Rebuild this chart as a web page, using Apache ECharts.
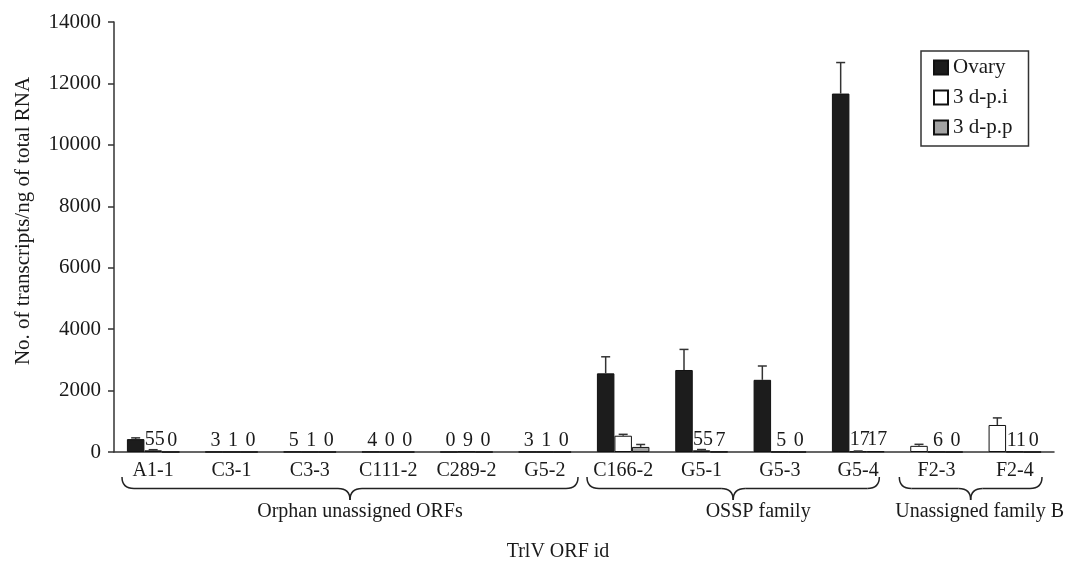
<!DOCTYPE html>
<html>
<head>
<meta charset="utf-8">
<script src="https://cdn.jsdelivr.net/npm/echarts@6/dist/echarts.min.js"></script>
<style>
  html, body { margin: 0; padding: 0; background: #fff; }
  #main { width: 1074px; height: 567px; }
</style>
</head>
<body>
<div id="main"></div>
<script>
// ORF ids on the category axis
const categories = ['A1-1', 'C3-1', 'C3-3', 'C111-2', 'C289-2', 'G5-2',
                    'C166-2', 'G5-1', 'G5-3', 'G5-4', 'F2-3', 'F2-4'];

// Transcript counts per ng of total RNA
const ovary    = [420, 3, 5, 4, 0, 3, 2560, 2670, 2350, 11670, 200, 880];
const dpi      = [55, 1, 1, 0, 9, 1, 530, 55, 5, 17, 6, 11];
const dpp      = [0, 0, 0, 0, 0, 0, 165, 7, 0, 17, 0, 0];

// Upper error (standard deviation) for each bar
const ovaryErr = [40, 0, 0, 0, 0, 0, 540, 670, 450, 1010, 50, 230];
const dpiErr   = [20, 0, 0, 0, 0, 0, 45, 25, 0, 15, 0, 0];
const dppErr   = [0, 0, 0, 0, 0, 0, 80, 0, 0, 0, 0, 0];

// Y axis range
const yMin = 0, yMax = 14000, yStep = 2000;

// ORF families shown with braces under the axis
const familyNames = ['Orphan unassigned ORFs', 'OSSP family', 'Unassigned family B'];
const familyFirst = [0, 6, 10];
const familyLast  = [5, 9, 11];

const seriesNames = ['Ovary', '3 d-p.i', '3 d-p.p'];

// ---- styling / layout ----
const FONT = '"Liberation Serif", "Times New Roman", serif';
const INK = '#1a1a1a';
const AXIS = '#333';
const BAR_W = 17.5;
const fills = ['#1c1c1c', '#ffffff', '#a3a3a3'];
// the F2 ORFs are drawn as open boxes in the first slot
const openFirstSlot = ['F2-3', 'F2-4'];
// brace end insets from the category edges, and family caption nudges
const braceInsets = [[8, 6], [3, 18], [2, 12]];
const captionShift = [10, 25, 9];

const chart = echarts.init(document.getElementById('main'), null, { renderer: 'canvas' });

function barData(values, slot) {
  return values.map((v, i) => {
    if (slot === 0 && openFirstSlot.indexOf(categories[i]) >= 0) {
      return { value: v, itemStyle: { color: '#ffffff' } };
    }
    return v;
  });
}

function errData() {
  const out = [];
  [ovary, dpi, dpp].forEach((vals, s) => {
    const errs = [ovaryErr, dpiErr, dppErr][s];
    vals.forEach((v, i) => { if (errs[i] > 0) out.push([i, v, errs[i], s]); });
  });
  return out;
}

const barSeries = [ovary, dpi, dpp].map((vals, s) => ({
  name: seriesNames[s],
  type: 'bar',
  data: barData(vals, s),
  barWidth: BAR_W,
  barGap: '0%',
  itemStyle: { color: fills[s], borderColor: '#111', borderWidth: 1 },
  label: {
    show: true,
    position: 'top',
    distance: 1,
    offset: [1.5, 0],
    fontFamily: FONT,
    fontSize: 20,
    color: INK,
    formatter: p => (p.value < 100 ? String(p.value) : '')
  },
  z: 2
}));

const errorSeries = {
  type: 'custom',
  silent: true,
  z: 5,
  encode: { x: 0, y: 1 },
  data: errData(),
  renderItem: function (params, api) {
    const cat = api.value(0), v = api.value(1), e = api.value(2), s = api.value(3);
    const p0 = api.coord([cat, v]);
    const p1 = api.coord([cat, v + e]);
    const x = p0[0] + (s - 1) * BAR_W;
    const st = { stroke: AXIS, lineWidth: 1.5 };
    return {
      type: 'group',
      children: [
        { type: 'line', shape: { x1: x, y1: p0[1], x2: x, y2: p1[1] }, style: st },
        { type: 'line', shape: { x1: x - 4.5, y1: p1[1], x2: x + 4.5, y2: p1[1] }, style: st }
      ]
    };
  }
};

chart.setOption({
  backgroundColor: '#ffffff',
  animation: false,
  textStyle: { fontFamily: FONT, color: INK },
  grid: { left: 114, right: 20, top: 22, bottom: 115 },
  legend: {
    data: seriesNames,
    orient: 'vertical',
    left: 921,
    top: 51,
    padding: [6, 16, 8, 12],
    itemWidth: 14,
    itemHeight: 14,
    itemGap: 9,
    borderColor: AXIS,
    borderWidth: 1.5,
    icon: 'rect',
    textStyle: { fontFamily: FONT, fontSize: 21, color: INK }
  },
  xAxis: {
    type: 'category',
    data: categories,
    axisLine: { lineStyle: { color: AXIS, width: 1.5 } },
    axisTick: { length: 5, lineStyle: { color: AXIS, width: 1.5 } },
    axisLabel: { interval: 0, margin: 9, fontFamily: FONT, fontSize: 20, color: INK }
  },
  yAxis: {
    type: 'value',
    min: yMin,
    max: yMax,
    interval: yStep,
    axisLine: { show: true, lineStyle: { color: AXIS, width: 1.5 } },
    axisTick: { show: true, length: 6, lineStyle: { color: AXIS, width: 1.5 } },
    splitLine: { show: false },
    axisLabel: { margin: 13, fontFamily: FONT, fontSize: 21, color: INK, formatter: v => String(v) }
  },
  series: barSeries.concat([errorSeries])
});

// Curly brace built from straight runs and quadratic curves
function braceParts(x1, x2, y0, h) {
  const xm = (x1 + x2) / 2, ym = y0 + h / 2, yt = y0 + h, r = 12;
  const st = { fill: 'none', stroke: '#222', lineWidth: 1.5 };
  const curve = (ax, ay, cx_, cy_, bx, by) => ({
    type: 'bezierCurve', silent: true, style: st,
    shape: { x1: ax, y1: ay, cpx1: cx_, cpy1: cy_, x2: bx, y2: by }
  });
  const seg = (ax, ay, bx, by) => ({
    type: 'line', silent: true, style: st,
    shape: { x1: ax, y1: ay, x2: bx, y2: by }
  });
  return [
    curve(x1, y0, x1, ym, x1 + r, ym),
    seg(x1 + r, ym, xm - r, ym),
    curve(xm - r, ym, xm, ym, xm, yt),
    curve(xm, yt, xm, ym, xm + r, ym),
    seg(xm + r, ym, x2 - r, ym),
    curve(x2 - r, ym, x2, ym, x2, y0)
  ];
}

const cx = i => chart.convertToPixel({ xAxisIndex: 0 }, i);
const cw = cx(1) - cx(0);
let graphics = [];
familyNames.forEach((name, k) => {
  const x1 = cx(familyFirst[k]) - cw / 2 + braceInsets[k][0];
  const x2 = cx(familyLast[k]) + cw / 2 - braceInsets[k][1];
  graphics = graphics.concat(braceParts(x1, x2, 477, 23));
  graphics.push({
    type: 'text',
    x: (x1 + x2) / 2 + captionShift[k],
    y: 512,
    silent: true,
    style: { text: name, font: '20px ' + FONT, fill: INK, textAlign: 'center', textVerticalAlign: 'middle' }
  });
});
graphics.push({
  type: 'text',
  x: 558,
  y: 552,
  silent: true,
  style: { text: 'TrlV ORF id', font: '20px ' + FONT, fill: INK, textAlign: 'center', textVerticalAlign: 'middle' }
});
graphics.push({
  type: 'text',
  x: 23,
  y: 221,
  rotation: Math.PI / 2,
  silent: true,
  style: { text: 'No. of transcripts/ng of total RNA', font: '21px ' + FONT, fill: INK, textAlign: 'center', textVerticalAlign: 'middle' }
});
chart.setOption({ graphic: graphics });
</script>
</body>
</html>
